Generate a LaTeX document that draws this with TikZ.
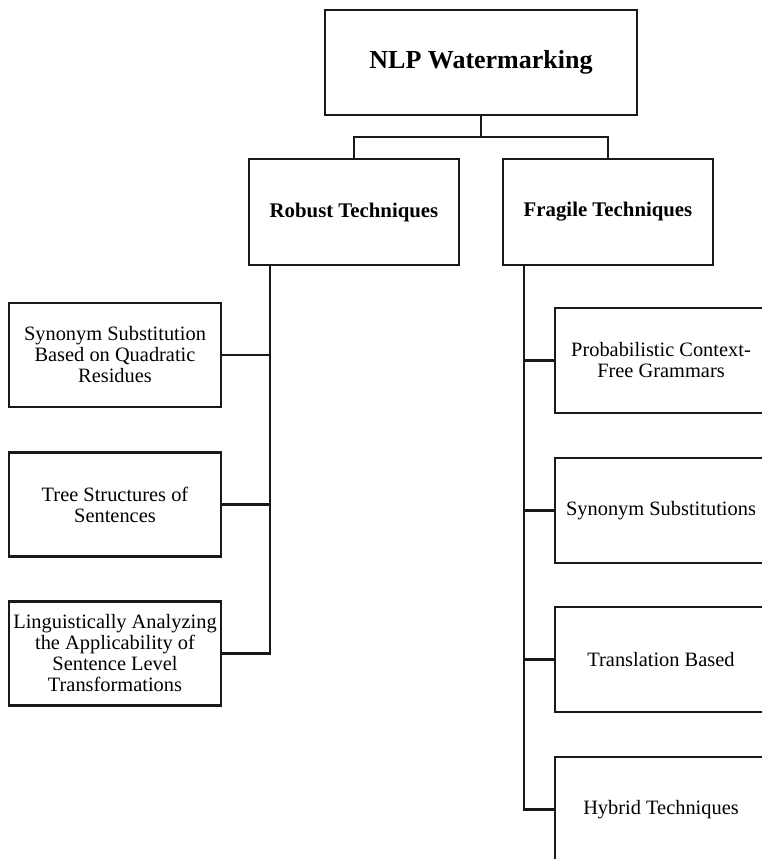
\documentclass[tikz,border=0pt]{standalone}
\usepackage{fontspec}
\setmainfont{Liberation Serif}
\begin{document}
\begin{tikzpicture}[x=1pt,y=-1pt,
  box/.style={draw=black!90, line width=2.4pt, rectangle, align=center, inner sep=0pt,
              font=\fontsize{20.4}{21}\selectfont},
  headbox/.style={box, font=\bfseries\fontsize{20.8}{21}\selectfont},
  wire/.style={draw=black!90, line width=2.6pt}]
  \useasboundingbox (0,0) rectangle (762,859);
  \clip (0,0) rectangle (762,859);
  \fill[white] (0,0) rectangle (762,859);

  % root and the two families
  \node[headbox, minimum width=312pt, minimum height=105pt,
        font=\bfseries\fontsize{26}{30}\selectfont] (root) at (481,62.5) {NLP Watermarking};
  \node[headbox, minimum width=210pt, minimum height=106pt] (robust) at (354,212) {Robust Techniques};
  \node[headbox, minimum width=210pt, minimum height=106pt] (fragile) at (608,212) {Fragile Techniques};

  % robust techniques
  \node[box, minimum width=212pt, minimum height=104pt] (r1) at (115,355)
    {Synonym Substitution\\Based on Quadratic\\Residues};
  \node[box, minimum width=212pt, minimum height=104pt] (r2) at (115,504.5)
    {Tree Structures of\\Sentences};
  \node[box, minimum width=212pt, minimum height=104pt] (r3) at (115,653.5)
    {Linguistically Analyzing\\the Applicability of\\Sentence Level\\Transformations};

  % fragile techniques
  \node[box, minimum width=212pt, minimum height=105pt] (f1) at (661,360.5)
    {Probabilistic Context-\\Free Grammars};
  \node[box, minimum width=212pt, minimum height=105pt] (f2) at (661,510.5)
    {Synonym Substitutions};
  \node[box, minimum width=212pt, minimum height=105pt] (f3) at (661,659.5)
    {Translation Based};
  \node[box, minimum width=212pt, minimum height=105pt] (f4) at (661,809.5)
    {Hybrid Techniques};

  % root to families
  \coordinate (split) at (481,137);
  \draw[wire] (root.south) -- (split);
  \draw[wire] (split) -| (robust.north);
  \draw[wire] (split) -| (fragile.north);

  % trunks
  \coordinate (rt) at (270,265);
  \coordinate (ft) at (524,265);
  \draw[wire] (rt) |- (r3.east);
  \draw[wire] (r1.east) -- (r1.east -| rt);
  \draw[wire] (r2.east) -- (r2.east -| rt);
  \draw[wire] (ft) |- (f4.west);
  \draw[wire] (f1.west) -- (f1.west -| ft);
  \draw[wire] (f2.west) -- (f2.west -| ft);
  \draw[wire] (f3.west) -- (f3.west -| ft);
\end{tikzpicture}
\end{document}
